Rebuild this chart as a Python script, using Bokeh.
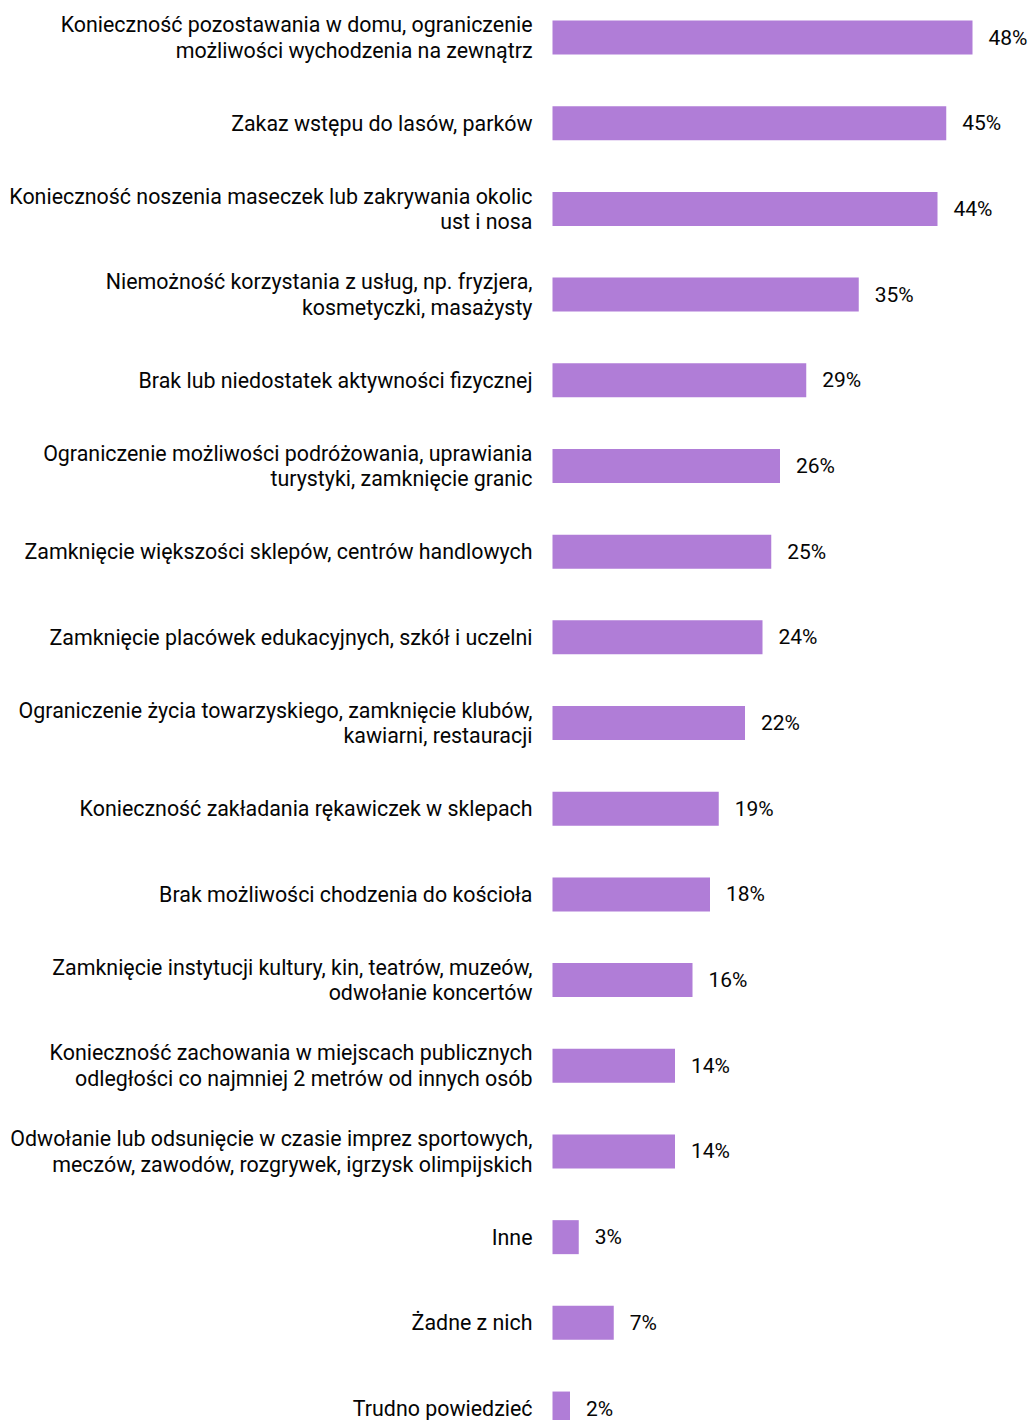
from bokeh.plotting import figure
from bokeh.models import ColumnDataSource, Range1d
from bokeh.core.properties import value
from bokeh.embed import file_html
from bokeh.resources import INLINE

categories = [
    "Konieczność pozostawania w domu, ograniczenie\nmożliwości wychodzenia na zewnątrz",
    "Zakaz wstępu do lasów, parków",
    "Konieczność noszenia maseczek lub zakrywania okolic\nust i nosa",
    "Niemożność korzystania z usług, np. fryzjera,\nkosmetyczki, masażysty",
    "Brak lub niedostatek aktywności fizycznej",
    "Ograniczenie możliwości podróżowania, uprawiania\nturystyki, zamknięcie granic",
    "Zamknięcie większości sklepów, centrów handlowych",
    "Zamknięcie placówek edukacyjnych, szkół i uczelni",
    "Ograniczenie życia towarzyskiego, zamknięcie klubów,\nkawiarni, restauracji",
    "Konieczność zakładania rękawiczek w sklepach",
    "Brak możliwości chodzenia do kościoła",
    "Zamknięcie instytucji kultury, kin, teatrów, muzeów,\nodwołanie koncertów",
    "Konieczność zachowania w miejscach publicznych\nodległości co najmniej 2 metrów od innych osób",
    "Odwołanie lub odsunięcie w czasie imprez sportowych,\nmeczów, zawodów, rozgrywek, igrzysk olimpijskich",
    "Inne",
    "Żadne z nich",
    "Trudno powiedzieć",
]
values = [48, 45, 44, 35, 29, 26, 25, 24, 22, 19, 18, 16, 14, 14, 3, 7, 2]

W, H = 1031, 1420
X0 = 552          # pixel position of zero inside the frame
PX_PER_UNIT = 8.75
ROW = 85.69
TOP = 37

n = len(categories)
source = ColumnDataSource(dict(
    y=list(range(n)),
    v=values,
    cat=categories,
    zero=[0] * n,
    lab=[f"{v}%" for v in values],
))

p = figure(
    width=W, height=H,
    x_range=Range1d(-X0 / PX_PER_UNIT, (W - X0) / PX_PER_UNIT),
    y_range=Range1d((n - 1) + (H - TOP - (n - 1) * ROW) / ROW, -TOP / ROW),
    output_backend="svg", toolbar_location=None,
    min_border=0, min_border_left=0, min_border_right=0, min_border_top=0, min_border_bottom=0,
)
p.axis.visible = False
p.grid.visible = False
p.outline_line_color = None
p.background_fill_color = "white"
p.border_fill_color = "white"

p.hbar(y="y", left=0, right="v", height=34 / ROW, source=source,
       fill_color="#b07dd7", line_color=None)

p.text(x="zero", y="y", text="cat", source=source, x_offset=-20,
       text_align="right", text_baseline="middle",
       text_font=value("Roboto"), text_font_size="21.4px", text_color="#050505",
       text_line_height=1.03)

p.text(x="v", y="y", text="lab", source=source, x_offset=16,
       text_align="left", text_baseline="middle",
       text_font=value("Roboto"), text_font_size="21px", text_color="#050505")

open("out.html", "w").write(file_html(p, INLINE))
